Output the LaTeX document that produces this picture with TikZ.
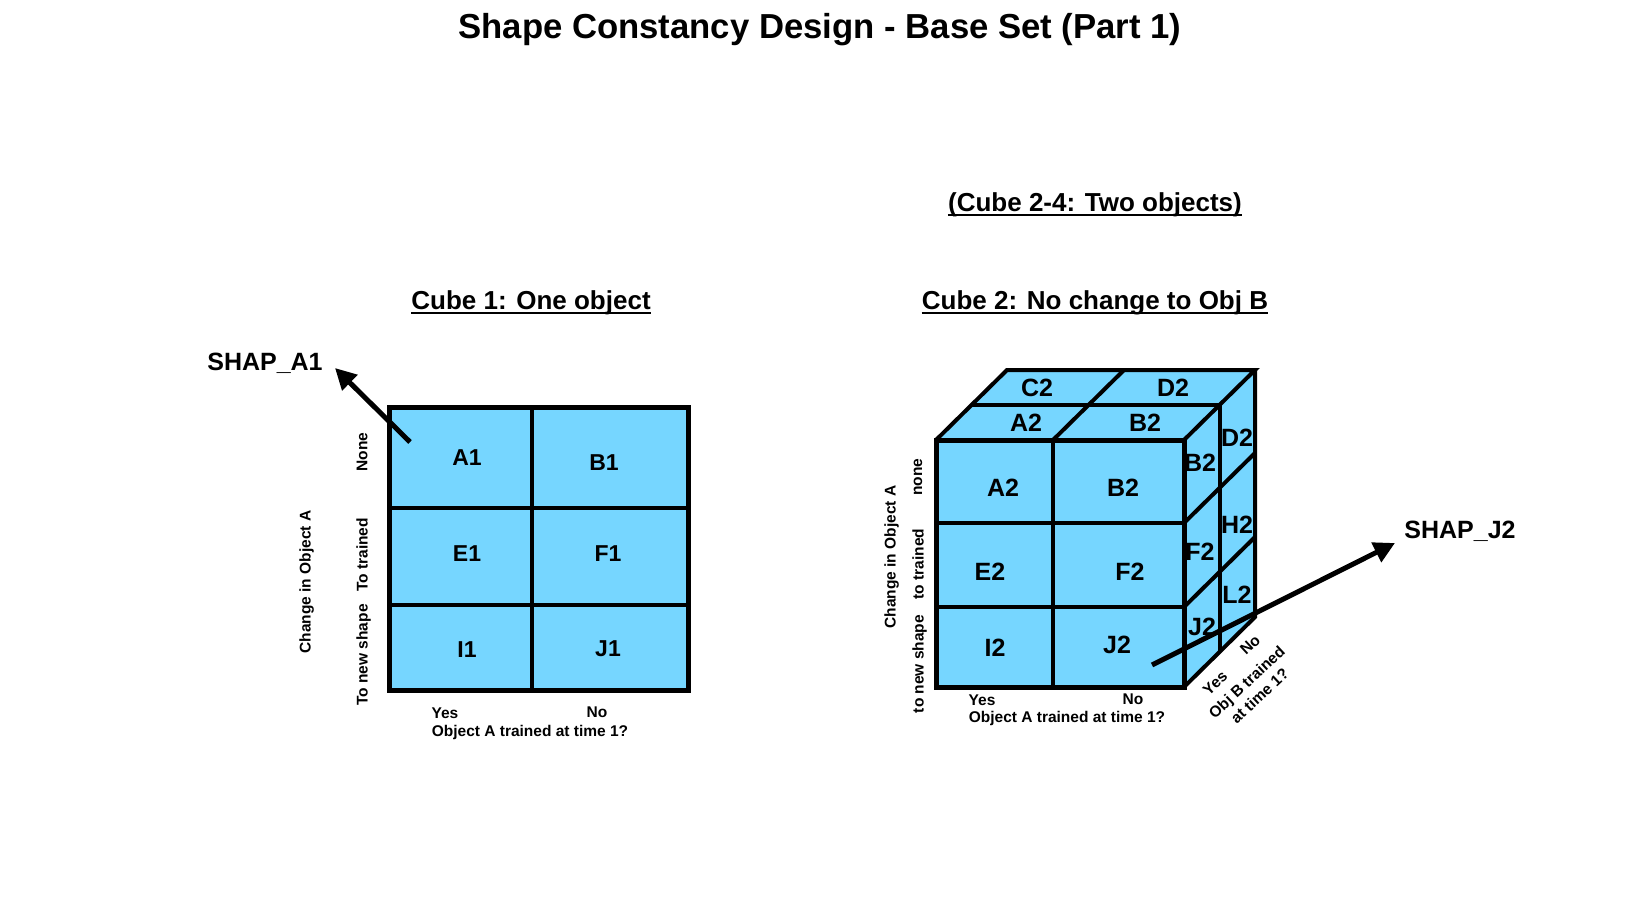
\documentclass[tikz,border=0pt]{standalone}
\usepackage{fontspec}
\setmainfont{Liberation Sans}
\usetikzlibrary{arrows.meta}
\definecolor{cellblue}{RGB}{118,214,255}
\begin{document}
\begin{tikzpicture}[x=1pt,y=-1pt,
  maintitle/.style={font=\fontsize{34.7}{40}\selectfont\bfseries, inner sep=0pt, text depth=0pt},
  subtitle/.style={font=\fontsize{26}{30}\selectfont\bfseries, inner sep=0pt},
  uline/.style={line width=2pt},
  cellone/.style={font=\fontsize{23}{26}\selectfont\bfseries, inner sep=0pt},
  celltwo/.style={font=\fontsize{25}{28}\selectfont\bfseries, inner sep=0pt},
  shap/.style={font=\fontsize{25}{28}\selectfont\bfseries, inner sep=0pt},
  small/.style={font=\fontsize{15.5}{18}\selectfont\bfseries, inner sep=0pt, text depth=0pt},
  gridline/.style={line width=4pt},
  border/.style={line width=5pt, line join=miter},
  ptr/.style={line width=5pt, -{Triangle[length=21pt,width=21pt]}},
  face/.style={fill=cellblue}
]
\useasboundingbox (0,0) rectangle (1637,907);

% titles
\node[maintitle] (title) at (820,26) {Shape Constancy Design - Base Set (Part 1)};
\node[subtitle, anchor=base] (sub24) at (1095,211) {(Cube 2-4: Two objects)};
\draw[uline] ([yshift=-4pt]sub24.base west) -- ([yshift=-4pt]sub24.base east);
\node[subtitle, anchor=base] (sub1) at (531,309) {Cube 1: One object};
\draw[uline] ([yshift=-4pt]sub1.base west) -- ([yshift=-4pt]sub1.base east);
\node[subtitle, anchor=base] (sub2) at (1095,309) {Cube 2: No change to Obj B};
\draw[uline] ([yshift=-4pt]sub2.base west) -- ([yshift=-4pt]sub2.base east);

% ---------- Cube 1 ----------
\coordinate (c1tl) at (389,407);
\coordinate (c1br) at (688,690);
\fill[face] (c1tl) rectangle (c1br);
\draw[gridline] (532,407) -- (532,690);
\draw[gridline] (389,508) -- (688,508);
\draw[gridline] (389,605) -- (688,605);
\draw[border] (c1tl) rectangle (c1br);

\node[cellone] (a1) at (467,458) {A1};
\node[cellone] (b1) at (604,463) {B1};
\node[cellone] (e1) at (467,554) {E1};
\node[cellone] (f1) at (608,554) {F1};
\node[cellone] (i1) at (467,650) {I1};
\node[cellone] (j1) at (608,649) {J1};

\node[small, rotate=90] (none1) at (362,452) {None};
\node[small, rotate=90] (totr1) at (362,555) {To trained};
\node[small, rotate=90] (tons1) at (362,655) {To new shape};
\node[small, rotate=90] (chg1) at (305,582) {Change in Object A};
\node[small] (yes1) at (445,713) {Yes};
\node[small] (no1) at (597,712) {No};
\node[small] (axa1) at (530,731) {Object A trained at time 1?};

\node[shap] (shapa1) at (265,363) {SHAP\_A1};
\coordinate (a1start) at (410,442);
\coordinate (a1tip) at (335,368);

% ---------- Cube 2 ----------
\coordinate (ftl) at (936,440);
\coordinate (ftr) at (1184,440);
\coordinate (fbl) at (936,687);
\coordinate (fbr) at (1184,687);
\coordinate (btl) at (1007,370);
\coordinate (btr) at (1255,370);
\coordinate (bbr) at (1255,617);

\fill[face] (ftl) rectangle (fbr);
\fill[face] (ftl) -- (ftr) -- (btr) -- (btl) -- cycle;
\fill[face] (ftr) -- (fbr) -- (bbr) -- (btr) -- cycle;

% front grid
\draw[gridline] (1053,440) -- (1053,687);
\draw[gridline] (936,523) -- (1184,523);
\draw[gridline] (936,607) -- (1184,607);
% top grid
\draw[gridline] (971.5,405) -- (1219.5,405);
\draw[gridline] (1053,440) -- (1124,370);
% right grid
\draw[gridline] (1219.5,405) -- (1219.5,652);
\draw[gridline] (1184,523) -- (1255,453);
\draw[gridline] (1184,607) -- (1255,537);
% outlines
\draw[border] (ftl) rectangle (fbr);
\draw[gridline, line join=miter] (ftl) -- (btl) -- (btr) -- (ftr);
\draw[gridline, line join=miter] (btr) -- (bbr) -- (fbr);

% top labels
\node[celltwo] (c2t) at (1037,388) {C2};
\node[celltwo] (d2t) at (1173,388) {D2};
\node[celltwo] (a2t) at (1026,423) {A2};
\node[celltwo] (b2t) at (1145,423) {B2};
% front labels
\node[celltwo] (a2) at (1003,488) {A2};
\node[celltwo] (b2) at (1123,488) {B2};
\node[celltwo] (e2) at (990,572) {E2};
\node[celltwo] (f2) at (1130,572) {F2};
\node[celltwo] (i2) at (995,648) {I2};
\node[celltwo] (j2) at (1117,645) {J2};
% right labels
\node[celltwo] (b2r) at (1200,463) {B2};
\node[celltwo] (d2r) at (1237,438) {D2};
\node[celltwo] (h2r) at (1237,525) {H2};
\node[celltwo] (f2r) at (1200,552) {F2};
\node[celltwo] (l2r) at (1237,595) {L2};
\node[celltwo] (j2r) at (1202,627) {J2};

\node[small, rotate=90] (none2) at (918,477) {none};
\node[small, rotate=90] (totr2) at (918,564) {to trained};
\node[small, rotate=90] (tons2) at (918,664) {to new shape};
\node[small, rotate=90] (chg2) at (890,557) {Change in Object A};
\node[small] (yes2) at (982,700) {Yes};
\node[small] (no2) at (1133,699) {No};
\node[small] (axa2) at (1067,717) {Object A trained at time 1?};

\node[small, rotate=43] (yesb) at (1215,683) {Yes};
\node[small, rotate=43] (nob) at (1250,645) {No};
\node[small, rotate=43, align=center, font=\fontsize{15.5}{19}\selectfont\bfseries] (axb) at (1253,689) {Obj B trained\\at time 1?};

\node[shap] (shapj2) at (1460,531) {SHAP\_J2};
\coordinate (j2start) at (1152,665);
\coordinate (j2tip) at (1395,543);

% pointers
\draw[ptr] (a1start) -- (a1tip);
\draw[ptr] (j2start) -- (j2tip);
\end{tikzpicture}
\end{document}
